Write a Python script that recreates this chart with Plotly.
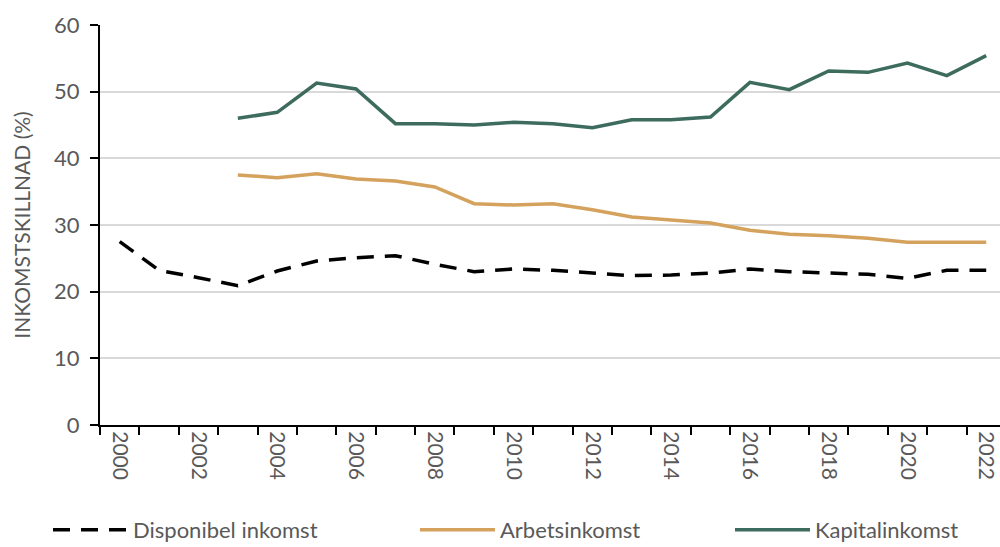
import plotly.graph_objects as go

years = list(range(2000, 2023))

disponibel = [27.5, 23.2, 22.1, 20.9, 23.1, 24.6, 25.1, 25.4, 24.1, 23.0, 23.4, 23.2,
              22.8, 22.4, 22.5, 22.8, 23.4, 23.0, 22.8, 22.6, 22.0, 23.2, 23.2]
arbets_years = list(range(2003, 2023))
arbets = [37.5, 37.1, 37.7, 36.9, 36.6, 35.7, 33.2, 33.0, 33.2, 32.3, 31.2, 30.7,
          30.3, 29.2, 28.6, 28.4, 28.0, 27.4, 27.4, 27.4]
kapital = [46.0, 46.9, 51.3, 50.4, 45.2, 45.2, 45.0, 45.4, 45.2, 44.6, 45.8, 45.8,
           46.2, 51.4, 50.3, 53.1, 52.9, 54.3, 52.4, 55.4]

label_years = list(range(2000, 2023, 2))
y_ticks = [0, 10, 20, 30, 40, 50, 60]

FONT = "Lato"
GREY = "#595959"

fig = go.Figure()
fig.add_trace(go.Scatter(x=years, y=disponibel, mode="lines", name="Disponibel inkomst",
                         line=dict(color="black", width=3.5, dash="17px,11px"), legend="legend"))
fig.add_trace(go.Scatter(x=arbets_years, y=arbets, mode="lines", name="Arbetsinkomst",
                         line=dict(color="#D4A25C", width=3.5), legend="legend2"))
fig.add_trace(go.Scatter(x=arbets_years, y=kapital, mode="lines", name="Kapitalinkomst",
                         line=dict(color="#3D6B5E", width=3.5), legend="legend3"))

# one legend per series so the entries can sit where the reference puts them
leg = dict(orientation="h", xref="container", xanchor="left",
           yref="container", y=0.031, yanchor="middle",
           font=dict(size=22, color=GREY), itemwidth=75)

fig.update_layout(
    width=1000, height=547,
    margin=dict(l=100, r=0, t=25, b=122),
    plot_bgcolor="white", paper_bgcolor="white",
    font=dict(family=FONT, size=21, color=GREY),
    showlegend=True,
    legend=dict(leg, x=0.048),
    legend2=dict(leg, x=0.415),
    legend3=dict(leg, x=0.73),
)
fig.update_xaxes(
    range=[1999.5, 2022.35], tickvals=label_years, ticktext=[str(y) for y in label_years],
    tickangle=90, ticks="", showgrid=False, zeroline=False, automargin=False,
    ticklabeloverflow="allow",
    showline=True, linecolor="black", linewidth=2,
    tickfont=dict(size=21, color=GREY),
    minor=dict(tickvals=[y - 0.5 for y in years], ticks="outside", ticklen=8,
               tickcolor="black", tickwidth=2, showgrid=False),
)
fig.update_yaxes(
    range=[0, 60], tickvals=y_ticks, showgrid=True, gridcolor="#D9D9D9", gridwidth=2,
    zeroline=False, showline=True, linecolor="black", linewidth=2, automargin=False,
    ticks="outside", ticklen=8, tickcolor="black", tickwidth=2, ticklabelstandoff=6,
    tickfont=dict(size=22, color=GREY),
    title=dict(text="INKOMSTSKILLNAD (%)", font=dict(size=21, color=GREY), standoff=18),
)

fig.write_html("out.html", config={"displayModeBar": False},
               post_script="document.body.style.margin='0';")
